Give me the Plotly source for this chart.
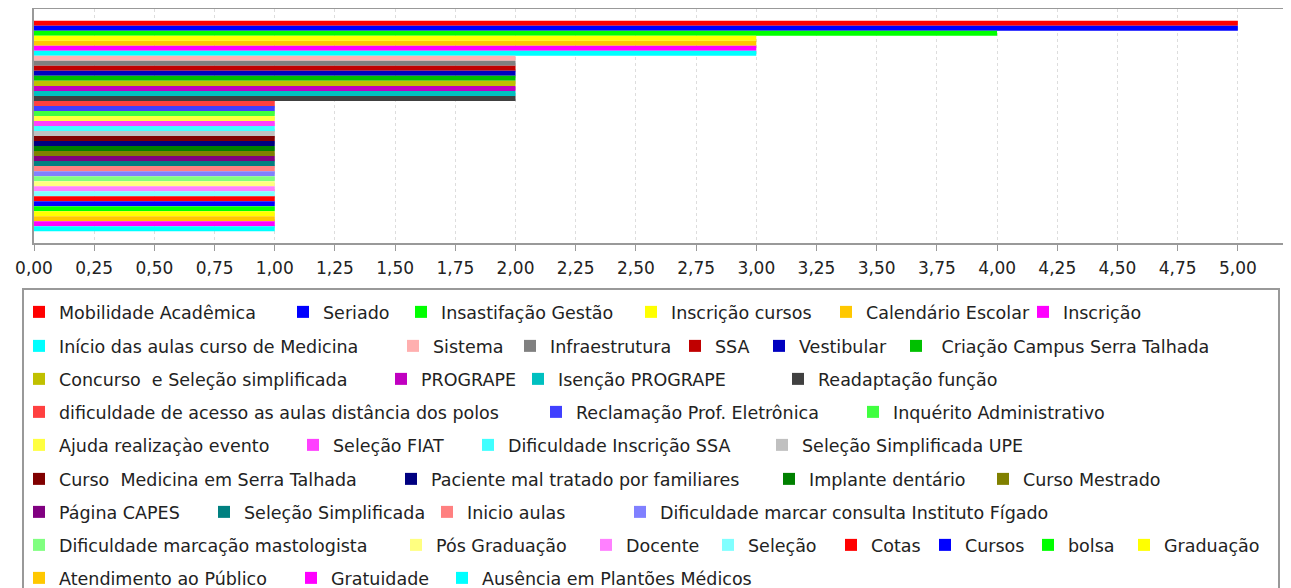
import plotly.graph_objects as go

# ---------------- data ----------------
categories = ["Assuntos"]

subjects = [
    "Mobilidade Acadêmica", "Seriado", "Insastifação Gestão", "Inscrição cursos",
    "Calendário Escolar", "Inscrição", "Início das aulas curso de Medicina", "Sistema",
    "Infraestrutura", "SSA", "Vestibular", " Criação Campus Serra Talhada",
    "Concurso  e Seleção simplificada", "PROGRAPE", "Isenção PROGRAPE", "Readaptação função",
    "dificuldade de acesso as aulas distância dos polos", "Reclamação Prof. Eletrônica",
    "Inquérito Administrativo", "Ajuda realizaçào evento", "Seleção FIAT",
    "Dificuldade Inscrição SSA", "Seleção Simplificada UPE", "Curso  Medicina em Serra Talhada",
    "Paciente mal tratado por familiares", "Implante dentário", "Curso Mestrado",
    "Página CAPES", "Seleção Simplificada", "Inicio aulas",
    "Dificuldade marcar consulta Instituto Fígado", "Dificuldade marcação mastologista",
    "Pós Graduação", "Docente", "Seleção", "Cotas", "Cursos", "bolsa", "Graduação",
    "Atendimento ao Público", "Gratuidade", "Ausência em Plantões Médicos",
]

counts = [
    5, 5, 4, 3, 3, 3, 3,
    2, 2, 2, 2, 2, 2, 2, 2, 2,
    1, 1, 1, 1, 1, 1, 1, 1, 1, 1, 1, 1, 1, 1, 1, 1, 1,
    1, 1, 1, 1, 1, 1, 1, 1, 1,
]

tick_values = [0, 0.25, 0.5, 0.75, 1, 1.25, 1.5, 1.75, 2, 2.25, 2.5, 2.75, 3,
               3.25, 3.5, 3.75, 4, 4.25, 4.5, 4.75, 5]

# ---------------- styles ----------------
colors = [
    "#FF0000", "#0000FF", "#00FF00", "#FFFF00", "#FFC800", "#FF00FF", "#00FFFF",
    "#FFAFAF", "#808080", "#C00000", "#0000C0", "#00C000", "#C0C000", "#C000C0",
    "#00C0C0", "#404040", "#FF4040", "#4040FF", "#40FF40", "#FFFF40", "#FF40FF",
    "#40FFFF", "#C0C0C0", "#800000", "#000080", "#008000", "#808000", "#800080",
    "#008080", "#FF8080", "#8080FF", "#80FF80", "#FFFF80", "#FF80FF", "#80FFFF",
    "#FF0000", "#0000FF", "#00FF00", "#FFFF00", "#FFC800", "#FF00FF", "#00FFFF",
]

# legend layout (row index, left pixel of the swatch, in page pixels)
legend_row = [0]*6 + [1]*6 + [2]*4 + [3]*3 + [4]*4 + [5]*4 + [6]*4 + [7]*8 + [8]*3
legend_xpx = [
    36, 300, 418, 648, 843, 1040,
    36, 410, 527, 692, 776, 913,
    36, 398, 535, 795,
    36, 553, 870,
    36, 310, 485, 779,
    36, 408, 786, 1000,
    36, 221, 444, 637,
    36, 413, 603, 725, 848, 942, 1045, 1141,
    36, 308, 459,
]
row_ypx = [312, 346, 379, 412, 445, 479, 512, 545, 578]

# page geometry: the browser page adds an 8px body margin around the figure
PAGE_OFF = 8
W, H = 1291 - PAGE_OFF, 588 - PAGE_OFF
PLOT_L, PLOT_R, PLOT_T, PLOT_B = 34, 1286, 8, 243   # plot box in page pixels
ML = PLOT_L - PAGE_OFF
MT = max(PLOT_T - PAGE_OFF, 1)
MR = W - (PLOT_R - PAGE_OFF)
MB = H - (PLOT_B - PAGE_OFF)
PW = W - ML - MR
PH = H - MT - MB


def px_to_paper_x(px):
    return (px - PAGE_OFF - ML) / PW


def px_to_paper_y(py):
    return (MT + PH - (py - PAGE_OFF)) / PH


FONT = "DejaVu Sans"
SWATCH_OFFSET = 17  # distance from legend origin to reference swatch left edge

fig = go.Figure()
legend_layout = {}
for i, (name, val, col) in enumerate(zip(subjects, counts, colors)):
    lname = "legend" if i == 0 else f"legend{i + 1}"
    fig.add_trace(go.Bar(
        y=categories, x=[val], name=name, orientation="h",
        marker=dict(color=col, line=dict(width=0)),
        legend=lname,
    ))
    legend_layout[lname] = dict(
        x=px_to_paper_x(legend_xpx[i] - SWATCH_OFFSET),
        y=px_to_paper_y(row_ypx[legend_row[i]]),
        xanchor="left", yanchor="middle",
        orientation="h",
        bgcolor="rgba(0,0,0,0)", borderwidth=0,
        font=dict(family=FONT, size=17.5, color="#222222"),
    )

fig.update_layout(
    width=W, height=H,
    margin=dict(l=ML, r=MR, t=MT, b=MB, autoexpand=False),
    paper_bgcolor="white", plot_bgcolor="white",
    barmode="group", bargap=0.1, bargroupgap=0,
    separators=",.",
    showlegend=True,
    **legend_layout,
)

fig.update_xaxes(
    range=[0, 5.2],
    tickmode="array", tickvals=tick_values, tickformat=".2f",
    ticks="outside", ticklen=6, tickcolor="#999999", tickwidth=1,
    ticklabelstandoff=3,
    tickfont=dict(family=FONT, size=17, color="#222222"),
    showgrid=True, gridcolor="#DDDDDD", griddash="3px,3px", gridwidth=1,
    showline=True, linecolor="#999999", linewidth=2, mirror=True,
    zeroline=False,
)
fig.update_yaxes(
    autorange="reversed", showticklabels=False, ticks="",
    showgrid=False, showline=True, linecolor="#999999", linewidth=2, mirror=True,
)

# legend frame
fig.add_shape(
    type="rect", xref="paper", yref="paper",
    x0=px_to_paper_x(23), x1=px_to_paper_x(1279),
    y0=px_to_paper_y(289), y1=px_to_paper_y(640),
    line=dict(color="#999999", width=2), fillcolor="rgba(0,0,0,0)",
)

fig.write_html("out.html")
